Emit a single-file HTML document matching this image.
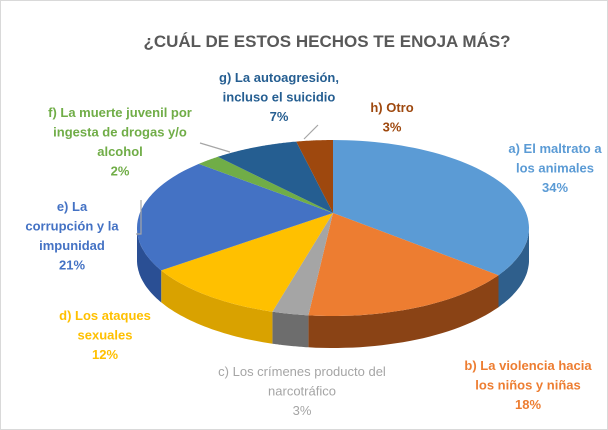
<!DOCTYPE html>
<html><head><meta charset="utf-8"><style>
body{margin:0;background:#fff}
svg{display:block;font-family:"Liberation Sans",sans-serif}
</style></head><body>
<svg id="c" width="608" height="430">
<rect x="0.5" y="0.5" width="607" height="429" fill="#fff" stroke="#d9d9d9"/>
<text x="327" y="47" text-anchor="middle" font-size="17" font-weight="bold" fill="#595959">¿CUÁL DE ESTOS HECHOS TE ENOJA MÁS?</text>
<g id="sides"></g><g id="tops"></g><g id="labels"></g>
</svg>
<script>
const categories=["a) El maltrato a los animales","b) La violencia hacia los niños y niñas","c) Los crímenes producto del narcotráfico","d) Los ataques sexuales","e) La corrupción y la impunidad","f) La muerte juvenil por ingesta de drogas y/o alcohol","g) La autoagresión, incluso el suicidio","h) Otro"];
const values=[34,18,3,12,21,2,7,3];
const colors=["#5B9BD5","#ED7D31","#A5A5A5","#FFC000","#4472C4","#70AD47","#255E91","#9E480E"];
const sideColors=["#2f5f8c","#8a4315","#6d6d6d","#d9a200","#2a4f94","#4a7a2e","#163d63","#6b2f08"];
const labelLines=[["a) El maltrato a","los animales"],["b) La violencia hacia","los niños y niñas"],["c) Los crímenes producto del","narcotráfico"],["d) Los ataques","sexuales"],["e) La","corrupción y la","impunidad"],["f) La muerte juvenil por","ingesta de drogas y/o","alcohol"],["g) La autoagresión,","incluso el suicidio"],["h) Otro"]];
const labelPos=[[555,153],[528,370],[302,376],[105,320],[72,211],[120,117],[279,82],[392,112]];
const cx=333,cy=228,rx=196,ry=88,depth=32,ax=333,ay=213;
const NS="http://www.w3.org/2000/svg";
const total=values.reduce((a,b)=>a+b,0);
function pt(t,dy){return [cx+rx*Math.sin(t),cy-ry*Math.cos(t)+(dy||0)];}
const sides=document.getElementById('sides'),tops=document.getElementById('tops'),labels=document.getElementById('labels');
let cum=0;
values.forEach((v,i)=>{
  const t1=cum/total*2*Math.PI;cum+=v;const t2=cum/total*2*Math.PI;
  const s1=Math.max(t1,Math.PI/2),s2=Math.min(t2,3*Math.PI/2);
  if(s2>s1){
    let N=30,pts=[];
    for(let k=0;k<=N;k++){pts.push(pt(s1+(s2-s1)*k/N));}
    for(let k=N;k>=0;k--){pts.push(pt(s1+(s2-s1)*k/N,depth));}
    const p=document.createElementNS(NS,'path');
    p.setAttribute('d',"M"+pts.map(q=>q[0].toFixed(1)+","+q[1].toFixed(1)).join("L")+"Z");
    p.setAttribute('fill',sideColors[i]);
    
    
    sides.appendChild(p);
  }
  let pts=[[ax,ay]];const N=60;
  for(let k=0;k<=N;k++)pts.push(pt(t1+(t2-t1)*k/N));
  const p=document.createElementNS(NS,'path');
  p.setAttribute('d',"M"+pts.map(q=>q[0].toFixed(1)+","+q[1].toFixed(1)).join("L")+"Z");
  p.setAttribute('fill',colors[i]);
  
  
  tops.appendChild(p);
  const lines=labelLines[i].concat([v+"%"]);
  const t=document.createElementNS(NS,'text');
  t.setAttribute('x',labelPos[i][0]);t.setAttribute('y',labelPos[i][1]);
  t.setAttribute('text-anchor','middle');t.setAttribute('font-size','13');
  t.setAttribute('font-weight',i==2?'normal':'bold');t.setAttribute('fill',colors[i]);
  
  
  lines.forEach((l,j)=>{const ts=document.createElementNS(NS,'tspan');ts.setAttribute('x',labelPos[i][0]);ts.setAttribute('dy',j?19.5:0);ts.textContent=l;t.appendChild(ts);});
  labels.appendChild(t);
});
const leaders=[[[200,143],[230,152]],[[304,139],[318,125]],[[136,234],[141,234],[141,200]]];
leaders.forEach((L,i)=>{
  const pl=document.createElementNS(NS,'polyline');
  pl.setAttribute('points',L.map(p=>p.join(",")).join(" "));
  pl.setAttribute('fill','none');pl.setAttribute('stroke','#a6a6a6');pl.setAttribute('stroke-width','1.2');
  
  
  labels.appendChild(pl);
});
</script>
</body></html>
